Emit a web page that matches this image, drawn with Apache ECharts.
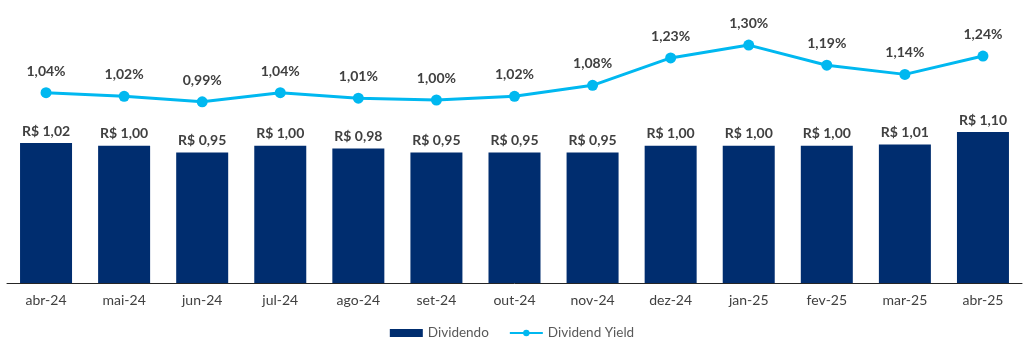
<!DOCTYPE html>
<html>
<head>
<meta charset="utf-8">
<title>Dividendo</title>
<script src="https://cdn.jsdelivr.net/npm/echarts@6/dist/echarts.min.js"></script>
<style>
  html, body { margin: 0; padding: 0; background: #fff; }
</style>
</head>
<body>
<div id="box" style="width: 1024px;height: 350px;"></div>
<script>
var meses = ['abr-24', 'mai-24', 'jun-24', 'jul-24', 'ago-24', 'set-24', 'out-24', 'nov-24', 'dez-24', 'jan-25', 'fev-25', 'mar-25', 'abr-25']
var dividendo = [1.02, 1.00, 0.95, 1.00, 0.98, 0.95, 0.95, 0.95, 1.00, 1.00, 1.00, 1.01, 1.10]
var dividendYield = [1.04, 1.02, 0.99, 1.04, 1.01, 1.00, 1.02, 1.08, 1.23, 1.30, 1.19, 1.14, 1.24]

var fonte = 'Lato, "Open Sans", sans-serif'
var mCharts = echarts.init(document.querySelector('#box'))

function virgula(v, casas) {
  return v.toFixed(casas).replace('.', ',')
}

var option = {
  textStyle: { fontFamily: fonte },
  animation: false,
  legend: {
    bottom: 5,
    left: 'center',
    itemGap: 20,
    itemWidth: 33,
    itemHeight: 8,
    textStyle: { color: '#595959', fontSize: 13.5, fontFamily: fonte },
    data: [
      { name: 'Dividendo', icon: 'rect' },
      { name: 'Dividend Yield' }
    ]
  },
  grid: { left: 7, right: 2, top: 8.5, bottom: 67 },
  xAxis: {
    type: 'category',
    data: meses,
    axisTick: { show: false },
    axisLine: { lineStyle: { color: '#262626', width: 1 } },
    axisLabel: { color: '#404040', fontSize: 14, margin: 10, fontFamily: fonte }
  },
  yAxis: [
    { type: 'value', min: 0, max: 2, show: false, splitLine: { show: false } },
    { type: 'value', min: 0, max: 1.5, show: false, splitLine: { show: false } }
  ],
  series: [
    {
      name: 'Dividendo',
      type: 'bar',
      data: dividendo,
      barWidth: 52,
      itemStyle: { color: '#002D6F' },
      label: {
        show: true,
        position: 'top',
        distance: 5,
        color: '#404040',
        fontWeight: 'bold',
        fontSize: 14,
        fontFamily: fonte,
        formatter: function (p) { return 'R$ ' + virgula(p.value, 2) }
      }
    },
    {
      name: 'Dividend Yield',
      type: 'line',
      yAxisIndex: 1,
      data: dividendYield,
      symbol: 'circle',
      symbolSize: 11,
      lineStyle: { color: '#00B8F0', width: 3 },
      itemStyle: { color: '#00B8F0' },
      label: {
        show: true,
        position: 'top',
        distance: 9,
        color: '#404040',
        fontWeight: 'bold',
        fontSize: 14,
        fontFamily: fonte,
        formatter: function (p) { return virgula(p.value, 2) + '%' }
      }
    }
  ]
}
mCharts.setOption(option)
</script>
</body>
</html>
